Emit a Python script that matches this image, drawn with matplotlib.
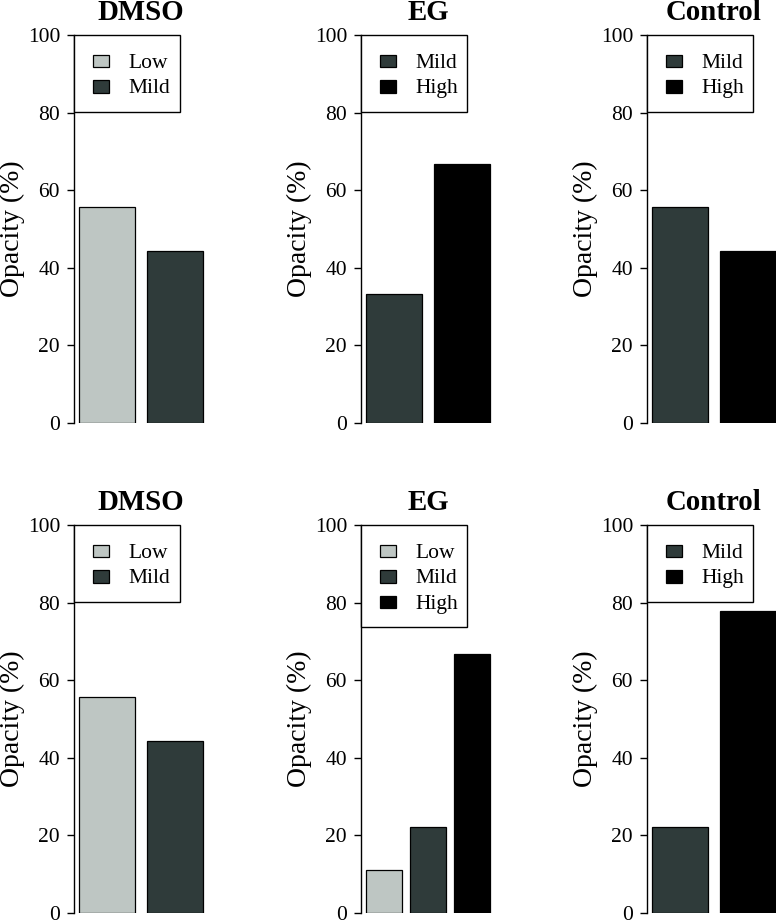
import matplotlib
matplotlib.use("Agg")
import matplotlib.pyplot as plt
import matplotlib.transforms as mtransforms

plt.rcParams['font.family'] = ['Liberation Serif', 'DejaVu Serif']

# ---- data ----
top_dmso_cats = ["Low", "Mild"]
top_dmso_vals = [55.6, 44.4]
top_eg_cats = ["Mild", "High"]
top_eg_vals = [33.3, 66.7]
top_ctrl_cats = ["Mild", "High"]
top_ctrl_vals = [55.6, 44.4]

bot_dmso_cats = ["Low", "Mild"]
bot_dmso_vals = [55.6, 44.4]
bot_eg_cats = ["Low", "Mild", "High"]
bot_eg_vals = [11.1, 22.2, 66.7]
bot_ctrl_cats = ["Mild", "High"]
bot_ctrl_vals = [22.2, 77.8]

titles = ["DMSO", "EG", "Control"]
yticks = [0, 20, 40, 60, 80, 100]
ylabel = "Opacity (%)"

colors = {"Low": "#BEC6C3", "Mild": "#2F3B3A", "High": "#000000"}

W, H = 776, 921
DPI = 100
fig = plt.figure(figsize=(W / DPI, H / DPI), dpi=DPI)

lefts_px = [74, 361, 647]
width_px = 134
rows_px = [(35, 423), (525, 913)]

panels = [
    [(top_dmso_cats, top_dmso_vals), (top_eg_cats, top_eg_vals), (top_ctrl_cats, top_ctrl_vals)],
    [(bot_dmso_cats, bot_dmso_vals), (bot_eg_cats, bot_eg_vals), (bot_ctrl_cats, bot_ctrl_vals)],
]

LEG_FS = 15.5
LEG_W = 106
ROW = 25.5

for r, (ytop, ybot) in enumerate(rows_px):
    for c, lx in enumerate(lefts_px):
        cats, vals = panels[r][c]
        ax = fig.add_axes([lx / W, (H - ybot) / H, width_px / W, (ybot - ytop) / H])
        n = len(cats)
        # R barplot layout: width 1, space 0.2
        centers = [0.7 + 1.2 * i for i in range(n)]
        ax.bar(centers, vals, width=1.0, color=[colors[k] for k in cats],
               edgecolor="black", linewidth=0.9, zorder=2)
        lo, hi = 0.2, 1.2 * n
        ext = 0.04 * (hi - lo)
        ax.set_xlim(lo - ext, hi + ext)
        ax.set_ylim(0, 100)
        for s in ["top", "right", "bottom"]:
            ax.spines[s].set_visible(False)
        ax.spines["left"].set_linewidth(1.0)
        ax.set_xticks([])
        ax.set_yticks(yticks)
        ax.tick_params(axis="y", length=5, width=1.0, pad=5, labelsize=15.5)
        ax.set_title(titles[c], fontsize=20.8, fontweight="bold", pad=11)
        ax.text(-61.5 / width_px, 0.5, ylabel, transform=ax.transAxes,
                rotation=90, ha="center", va="center", fontsize=20)

        # legend drawn R-style, positioned in pixels from the axes' top-left corner
        tr = (mtransforms.Affine2D().scale(1 / DPI, -1 / DPI)
              .translate(lx / DPI, (H - ytop) / DPI) + fig.dpi_scale_trans)
        box_h = ROW * n + 25.5
        ax.add_patch(plt.Rectangle((0, 0), LEG_W, box_h, transform=tr,
                                   facecolor="white", edgecolor="black",
                                   linewidth=1.0, zorder=5, clip_on=False))
        for i, k in enumerate(cats):
            cy = 26 + ROW * i
            ax.add_patch(plt.Rectangle((18.5, cy - 6.4), 16.7, 12.8, transform=tr,
                                       facecolor=colors[k], edgecolor="black",
                                       linewidth=0.9, zorder=6, clip_on=False))
            ax.text(54.3, cy + 6.8, k, transform=tr, ha="left", va="baseline",
                    fontsize=LEG_FS, zorder=7)

fig.savefig("out.png", dpi=DPI)
